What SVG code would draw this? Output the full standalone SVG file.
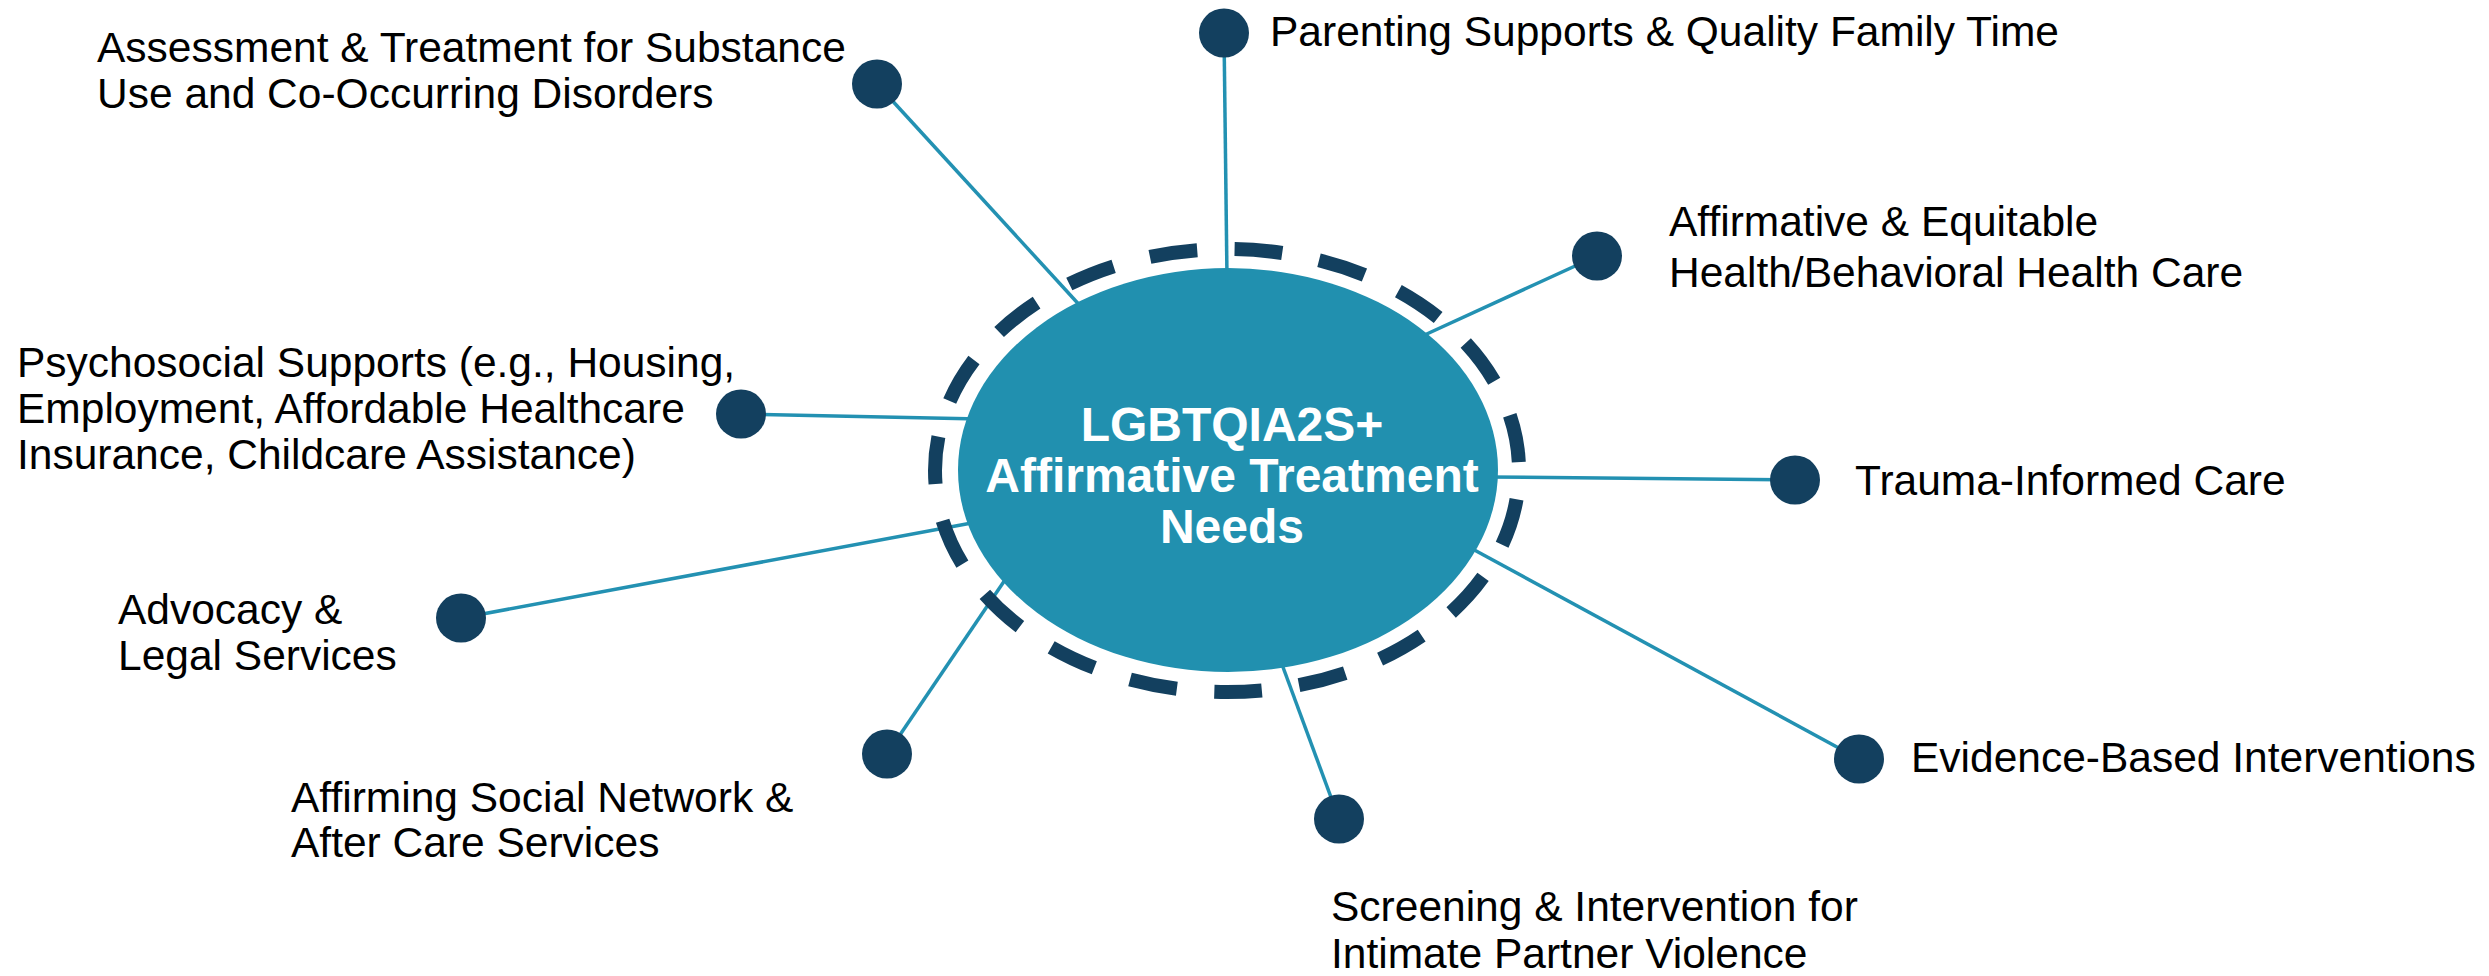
<svg xmlns="http://www.w3.org/2000/svg" width="2489" height="976" viewBox="0 0 2489 976">
<style>
.conn{stroke:#2391b2;stroke-width:3.5;fill:none;stroke-linecap:butt}
.dot{fill:#13405f}
.lbl{font-family:"Liberation Sans",Arial,sans-serif;font-size:42.5px;fill:#000}
.ctr{font-family:"Liberation Sans",Arial,sans-serif;font-size:48px;font-weight:bold;fill:#fff;text-anchor:middle}
</style>
<rect width="2489" height="976" fill="#fff"/>
<g id="connectors">
<line class="conn" x1="877" y1="84" x2="1084" y2="310"/>
<line class="conn" x1="1224" y1="33" x2="1227" y2="278"/>
<line class="conn" x1="1597" y1="256" x2="1418" y2="338"/>
<line class="conn" x1="1795" y1="480" x2="1488" y2="477"/>
<line class="conn" x1="1859" y1="759" x2="1467" y2="546"/>
<line class="conn" x1="1339" y1="819" x2="1280" y2="659"/>
<line class="conn" x1="887" y1="754" x2="1009" y2="574"/>
<line class="conn" x1="461" y1="618" x2="977" y2="522"/>
<line class="conn" x1="741" y1="414" x2="980" y2="419"/>
</g>
<g id="center">
<ellipse cx="1227" cy="470.5" rx="292" ry="221.5" fill="none" stroke="#13405f" stroke-width="14" pathLength="1900" stroke-dasharray="56 44" stroke-dashoffset="66"/>
<ellipse cx="1228" cy="470" rx="270" ry="202" fill="#2190af"/>
<text class="ctr" x="1232" y="441">LGBTQIA2S+</text>
<text class="ctr" x="1232" y="492">Affirmative Treatment</text>
<text class="ctr" x="1232" y="543">Needs</text>
</g>
<g id="n-assessment">
<ellipse class="dot" cx="877" cy="84" rx="25" ry="24.5"/>
<text class="lbl" x="97" y="62">Assessment &amp; Treatment for Substance</text>
<text class="lbl" x="97" y="108">Use and Co-Occurring Disorders</text>
</g>
<g id="n-parenting">
<ellipse class="dot" cx="1224" cy="33" rx="25" ry="24.5"/>
<text class="lbl" x="1270" y="46">Parenting Supports &amp; Quality Family Time</text>
</g>
<g id="n-affirmative">
<ellipse class="dot" cx="1597" cy="256" rx="25" ry="24.5"/>
<text class="lbl" x="1669" y="236">Affirmative &amp; Equitable</text>
<text class="lbl" x="1669" y="287">Health/Behavioral Health Care</text>
</g>
<g id="n-trauma">
<ellipse class="dot" cx="1795" cy="480" rx="25" ry="24.5"/>
<text class="lbl" x="1855" y="495">Trauma-Informed Care</text>
</g>
<g id="n-evidence">
<ellipse class="dot" cx="1859" cy="759" rx="25" ry="24.5"/>
<text class="lbl" x="1911" y="772">Evidence-Based Interventions</text>
</g>
<g id="n-screening">
<ellipse class="dot" cx="1339" cy="819" rx="25" ry="24.5"/>
<text class="lbl" x="1331" y="921">Screening &amp; Intervention for</text>
<text class="lbl" x="1331" y="968">Intimate Partner Violence</text>
</g>
<g id="n-social">
<ellipse class="dot" cx="887" cy="754" rx="25" ry="24.5"/>
<text class="lbl" x="291" y="812">Affirming Social Network &amp;</text>
<text class="lbl" x="291" y="857">After Care Services</text>
</g>
<g id="n-advocacy">
<ellipse class="dot" cx="461" cy="618" rx="25" ry="24.5"/>
<text class="lbl" x="118" y="624">Advocacy &amp;</text>
<text class="lbl" x="118" y="670">Legal Services</text>
</g>
<g id="n-psychosocial">
<ellipse class="dot" cx="741" cy="414" rx="25" ry="24.5"/>
<text class="lbl" x="17" y="377">Psychosocial Supports (e.g., Housing,</text>
<text class="lbl" x="17" y="423">Employment, Affordable Healthcare</text>
<text class="lbl" x="17" y="469">Insurance, Childcare Assistance)</text>
</g>
</svg>
